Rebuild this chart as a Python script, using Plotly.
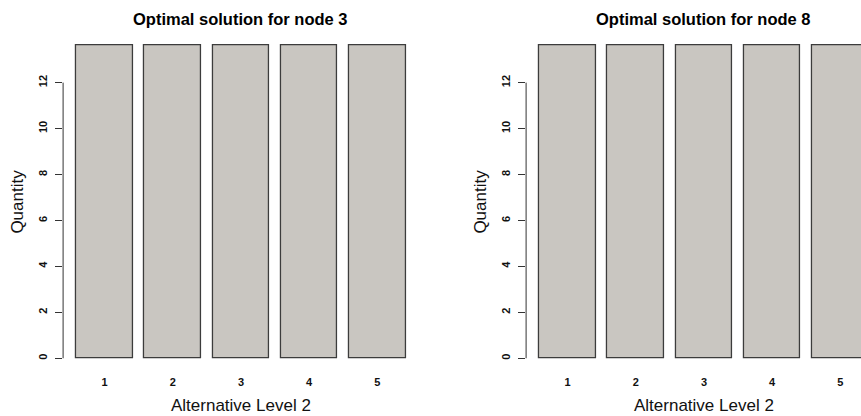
import plotly.graph_objects as go

# Data for the two nodes
categories = ["1", "2", "3", "4", "5"]
node3_quantity = [13.65, 13.65, 13.65, 13.65, 13.65]
node8_quantity = [13.65, 13.65, 13.65, 13.65, 13.65]
y_tick_values = [0, 2, 4, 6, 8, 10, 12]
panel_titles = ["Optimal solution for node 3", "Optimal solution for node 8"]
x_title = "Alternative Level 2"
y_title = "Quantity"

W, H = 861, 416
FONT = "Liberation Sans, Arial, sans-serif"
BAR_FILL = "#c9c6c1"
BAR_EDGE = "#3c3c3c"
AXIS_COLOR = "#333333"

# barplot geometry: unit width bars separated by 0.2, axis padded by 4%
bar_width, bar_space = 1.0, 0.2
centers = [bar_space + bar_width / 2 + i * (bar_width + bar_space) for i in range(len(categories))]
x_lo = bar_space
x_hi = len(categories) * (bar_width + bar_space)
pad = 0.04 * (x_hi - x_lo)
x_range = [x_lo - pad, x_hi + pad]

# pixel layout of each panel's plotting region
px_per_unit = 56.8
left_x0 = 63.1
right_x0 = 526.1
plot_top, plot_bottom = 32.2, 370.8

fig = go.Figure()

panels = [
    (node3_quantity, "x", "y"),
    (node8_quantity, "x2", "y2"),
]

for values, xa, ya in panels:
    fig.add_trace(go.Bar(
        x=centers, y=values, width=bar_width,
        marker=dict(color=BAR_FILL, line=dict(color=BAR_EDGE, width=1.3)),
        xaxis=xa, yaxis=ya, showlegend=False, hoverinfo="skip",
    ))

ymax = max(max(node3_quantity), max(node8_quantity))
y_range = [-0.04 * ymax, 1.04 * ymax]

y_domain = [1 - plot_bottom / H, 1 - plot_top / H]

common_x = dict(
    tickvals=centers, ticktext=categories, ticks="", showgrid=False,
    zeroline=False, showline=False,
    tickfont=dict(family=FONT, size=11, color="#111", weight="bold"),
    ticklabelstandoff=3,
)
common_y = dict(
    range=y_range, tickvals=y_tick_values, ticks="outside", ticklen=7,
    tickwidth=1, tickcolor=AXIS_COLOR, tickangle=-90, showgrid=False,
    zeroline=False, showline=False,
    tickfont=dict(family=FONT, size=11, color="#111", weight="bold"),
    ticklabelstandoff=4,
)

left_x1 = left_x0 + (x_range[1] - x_range[0]) * px_per_unit
right_full_x1 = right_x0 + (x_range[1] - x_range[0]) * px_per_unit
# the right panel runs past the page edge; show only the visible part
right_visible_hi = x_range[0] + (W - right_x0) / px_per_unit

fig.update_layout(
    width=W, height=H,
    margin=dict(l=0, r=0, t=0, b=0),
    paper_bgcolor="white", plot_bgcolor="white",
    xaxis=dict(domain=[left_x0 / W, left_x1 / W], range=x_range, **common_x),
    yaxis=dict(domain=y_domain, anchor="x", **common_y),
    xaxis2=dict(domain=[right_x0 / W, 1.0], range=[x_range[0], right_visible_hi],
                anchor="y2", **common_x),
    yaxis2=dict(domain=y_domain, anchor="x2", **common_y),
    bargap=0,
)

# y axis lines span only the first to last tick
for xa, ya in [("x", "y"), ("x2", "y2")]:
    fig.add_shape(type="line", xref=f"{xa} domain", x0=0, x1=0,
                  yref=ya, y0=y_tick_values[0], y1=y_tick_values[-1],
                  line=dict(color=AXIS_COLOR, width=1))

# titles and axis labels
for title, x0, x1 in [(panel_titles[0], left_x0, left_x1),
                      (panel_titles[1], right_x0, right_full_x1)]:
    cx = (x0 + x1) / 2 / W
    fig.add_annotation(text=title, xref="paper", yref="paper", x=cx, y=1 - 19 / H,
                       showarrow=False, xanchor="center", yanchor="middle",
                       font=dict(family=FONT, size=16.5, color="#000", weight="bold"))
    fig.add_annotation(text=x_title, xref="paper", yref="paper", x=cx, y=1 - 405 / H,
                       showarrow=False, xanchor="center", yanchor="middle",
                       font=dict(family=FONT, size=17, color="#111"))
    fig.add_annotation(text=y_title, xref="paper", yref="paper", x=(x0 - 46) / W,
                       y=sum(y_domain) / 2, textangle=-90,
                       showarrow=False, xanchor="center", yanchor="middle",
                       font=dict(family=FONT, size=17, color="#111"))

fig.write_html("out.html")
